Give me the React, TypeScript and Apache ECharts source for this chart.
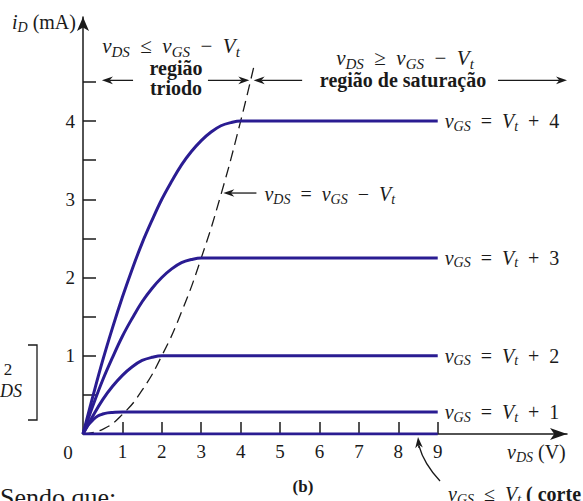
import React, { useEffect, useRef } from "react";
import * as echarts from "echarts";

// ---- data ----
const xTickValues = [1, 2, 3, 4, 5, 6, 7, 8, 9];
const yTickValues = [0.5, 1, 1.5, 2, 2.5, 3, 3.5, 4, 4.5];
const yLabelValues = [1, 2, 3, 4];

const curveVov4 = [[0, 0], [0.25, 0.48], [0.5, 0.94], [0.75, 1.36], [1, 1.75], [1.25, 2.11], [1.5, 2.44], [1.75, 2.73], [2, 3], [2.25, 3.23], [2.5, 3.44], [2.75, 3.61], [3, 3.75], [3.25, 3.86], [3.5, 3.94], [3.75, 3.98], [4, 4], [9, 4]];
const curveVov3 = [[0, 0], [0.25, 0.36], [0.5, 0.69], [0.75, 0.98], [1, 1.25], [1.25, 1.48], [1.5, 1.69], [1.75, 1.86], [2, 2], [2.25, 2.11], [2.5, 2.19], [2.75, 2.23], [3, 2.25], [9, 2.25]];
const curveVov2 = [[0, 0], [0.25, 0.23], [0.5, 0.44], [0.75, 0.61], [1, 0.75], [1.25, 0.86], [1.5, 0.94], [1.75, 0.98], [2, 1], [9, 1]];
const curveVov1 = [[0, 0], [0.125, 0.11], [0.25, 0.18], [0.375, 0.23], [0.5, 0.255], [0.625, 0.27], [0.75, 0.275], [1, 0.28], [9, 0.28]];
const curveCutoff = [[0, 0], [9, 0]];
const edgeCurve = [[0, 0], [0.5, 0.06], [1, 0.25], [1.5, 0.56], [2, 1], [2.5, 1.56], [3, 2.25], [3.5, 3.06], [4, 4], [4.35, 4.73]];
const overdriveLabels = ["4", "3", "2", "1"];

const FONT = "Liberation Serif, serif";
const INK = "#1a1a1a";
const BLUE = "#2a1c92";
const SP = "\u2002";

function mathRich(size: number) {
  return {
    v: { fontFamily: FONT, fontStyle: "italic", fontSize: size, color: INK, fill: INK },
    sub: { fontFamily: FONT, fontStyle: "italic", fontSize: Math.round(size * 0.72), color: INK, fill: INK, padding: [Math.round(size * 0.5), 0, 0, 0] },
    op: { fontFamily: FONT, fontSize: size, color: INK, fill: INK },
    b: { fontFamily: FONT, fontWeight: "bold", fontSize: size, color: INK, fill: INK },
  };
}

const gateText = (n: string) => `{v|v}{sub|GS}{op|${SP}=${SP}}{v|V}{sub|t}{op|${SP}+${SP}${n}}`;
const condText = (rel: string) => `{v|v}{sub|DS}{op|${SP}${rel}${SP}}{v|v}{sub|GS}{op|${SP}−${SP}}{v|V}{sub|t}`;

export default function App() {
  const ref = useRef<HTMLDivElement>(null);
  useEffect(() => {
    if (!ref.current) return;
    const chart = echarts.init(ref.current, undefined, { renderer: "svg" });
    const curves = [curveVov4, curveVov3, curveVov2, curveVov1];
    const series: any[] = curves.map((d, k) => ({
      type: "line",
      data: d,
      smooth: 0.4,
      showSymbol: false,
      lineStyle: { color: BLUE, width: 3 },
      endLabel: {
        show: true,
        distance: 7,
        formatter: () => gateText(overdriveLabels[k]),
        rich: mathRich(20),
      },
      z: 3,
    }));
    series.push({
      type: "line",
      data: curveCutoff,
      showSymbol: false,
      lineStyle: { color: BLUE, width: 3 },
      z: 3,
    });
    series.push({
      type: "line",
      data: edgeCurve,
      smooth: true,
      showSymbol: false,
      lineStyle: { color: INK, width: 1.3, type: [11, 6] },
      z: 2,
    });

    chart.setOption({
      animation: false,
      grid: { left: 83, right: 16, top: 17, bottom: 67, containLabel: false },
      xAxis: {
        type: "value",
        min: 0,
        max: 12.28,
        splitLine: { show: false },
        axisLine: { show: true, symbol: ["none", "arrow"], symbolSize: [9, 17], lineStyle: { color: INK, width: 1.5 } },
        axisTick: { show: true, inside: true, length: 12, customValues: xTickValues, lineStyle: { color: INK, width: 1.5 } },
        axisLabel: { customValues: xTickValues, fontFamily: FONT, fontSize: 19, color: INK, margin: 8 },
      },
      yAxis: {
        type: "value",
        min: 0,
        max: 5.33,
        splitLine: { show: false },
        axisLine: { show: true, symbol: ["none", "arrow"], symbolSize: [9, 14], lineStyle: { color: INK, width: 1.5 } },
        axisTick: { show: true, inside: true, length: 13, customValues: yTickValues, lineStyle: { color: INK, width: 1.5 } },
        axisLabel: { customValues: yLabelValues, fontFamily: FONT, fontSize: 19, color: INK, margin: 8 },
      },
      series,
    });

    const P = (x: number, y: number) => chart.convertToPixel({ gridIndex: 0 }, [x, y]) as number[];
    const arrow = (x1: number, y1: number, x2: number, y2: number, w = 1.3) => {
      const ang = Math.atan2(y2 - y1, x2 - x1);
      const L = 11, H = 3.8;
      const bx = x2 - L * Math.cos(ang), by = y2 - L * Math.sin(ang);
      const nx = x2 - L * 0.7 * Math.cos(ang), ny = y2 - L * 0.7 * Math.sin(ang);
      const px = -Math.sin(ang) * H, py = Math.cos(ang) * H;
      return [
        { type: "line", shape: { x1, y1, x2: nx, y2: ny }, style: { stroke: INK, lineWidth: w } },
        {
          type: "polygon",
          shape: { points: [[x2, y2], [bx + px, by + py], [nx, ny], [bx - px, by - py]] },
          style: { fill: INK },
        },
      ];
    };

    const yArrow = P(0, 4.52)[1];
    const a1 = P(1.27, 4.52), a1t = P(0.48, 4.52);
    const a2 = P(3.17, 4.52), a2t = P(4.22, 4.52);
    const a3 = P(5.56, 4.52), a3t = P(4.33, 4.52);
    const a4 = P(10.53, 4.52), a4t = P(12.28, 4.52);
    const e1 = P(4.4, 3.08), e1t = P(3.56, 3.08);
    const o = P(0, 0);
    const cut = P(8.5, 0);

    const txt = (x: number, y: number, text: string, align = "left", size = 19, extra: any = {}) => ({
      type: "text",
      x,
      y,
      style: {
        text,
        rich: mathRich(size),
        fontFamily: FONT,
        fontSize: size,
        fill: INK,
        align,
        verticalAlign: "middle",
        ...extra,
      },
      z: 10,
    });

    const graphic: any[] = [
      ...arrow(a1[0], yArrow, a1t[0], yArrow),
      ...arrow(a2[0], yArrow, a2t[0], yArrow),
      ...arrow(a3[0], yArrow, a3t[0], yArrow),
      ...arrow(a4[0], yArrow, a4t[0], yArrow),
      ...arrow(e1[0], e1[1], e1t[0], e1t[1]),
      {
        type: "bezierCurve",
        shape: { x1: cut[0] + 22, y1: cut[1] + 47, cpx1: cut[0] + 6, cpy1: cut[1] + 30, x2: cut[0] + 1, y2: cut[1] + 12 },
        style: { stroke: INK, lineWidth: 1.3, fill: "none" },
      },
      ...arrow(cut[0] + 1, cut[1] + 14, cut[0], cut[1] + 3),
      txt(12, 22, "{v|i}{sub|D}{op| (mA)}", "left", 20),
      txt(o[0] - 15, o[1] + 18, "0", "center", 19),
      txt(171, 46, condText("≤"), "center", 21),
      txt(176, 68, "{b|região}", "center", 20),
      txt(176, 88, "{b|triodo}", "center", 20),
      txt(405, 58, condText("≥"), "center", 21),
      txt(403, 80, "{b|região de saturação}", "center", 20),
      txt(e1[0] + 8, e1[1] + 1, condText("="), "left", 20),
      txt(507, 452, "{v|v}{sub|DS}{op| (V)}", "left", 20),
      txt(448, 494, `{v|v}{sub|GS}{op|${SP}≤${SP}}{v|V}{sub|t}{b| ( corte}`, "left", 20),
      txt(303, 486, "{b|(b)}", "center", 17),
      txt(0, 497, "Sendo que:", "left", 26),
      txt(8, 369, "2", "center", 17),
      txt(0, 391, "{v|DS}", "left", 18),
      {
        type: "polyline",
        shape: { points: [[28, 345], [37, 345], [37, 420], [28, 420]] },
        style: { stroke: INK, lineWidth: 1.3, fill: "none" },
      },
    ];
    chart.setOption({ graphic });

    return () => chart.dispose();
  }, []);
  return <div ref={ref} style={{ position: "fixed", left: 0, top: 0, width: 583, height: 501, background: "#fff" }} />;
}
